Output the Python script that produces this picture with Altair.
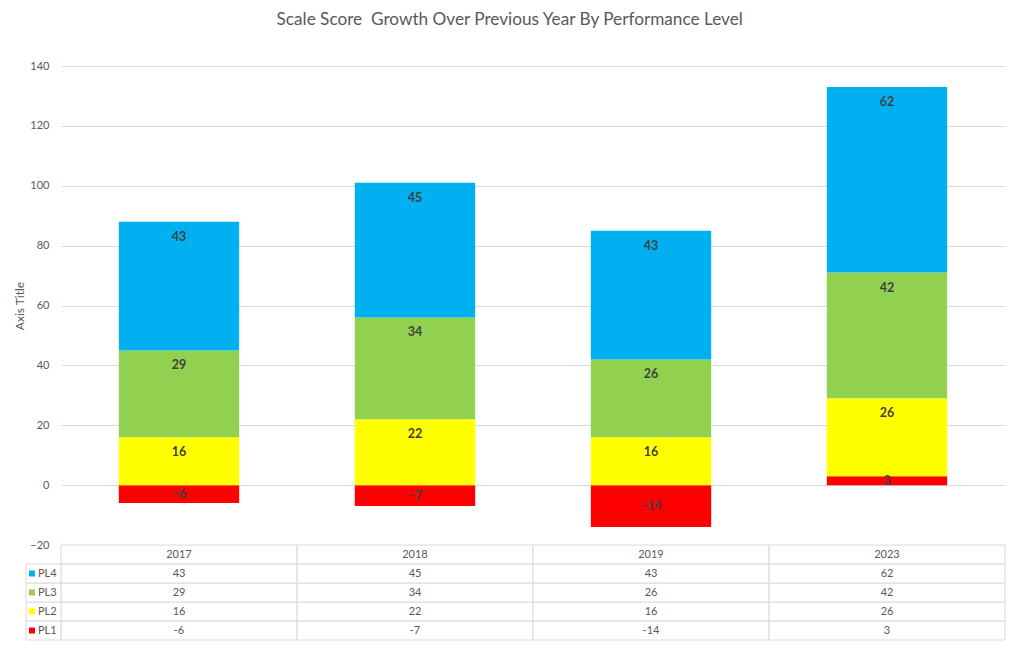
import altair as alt
import pandas as pd

years = ["2017", "2018", "2019", "2023"]
series = ["PL1", "PL2", "PL3", "PL4"]
pl1 = [-6, -7, -14, 3]
pl2 = [16, 22, 16, 26]
pl3 = [29, 34, 26, 42]
pl4 = [43, 45, 43, 62]
colors = ["#FF0000", "#FFFF00", "#92D050", "#00B0F0"]
y_ticks = [-20, 0, 20, 40, 60, 80, 100, 120, 140]
table_rows = ["hdr", "PL4", "PL3", "PL2", "PL1"]

vals = {"PL1": pl1, "PL2": pl2, "PL3": pl3, "PL4": pl4}
recs = []
for s_i, s in enumerate(series):
    for y_i, yr in enumerate(years):
        recs.append({"year": yr, "series": s, "value": vals[s][y_i], "ord": s_i})
df = pd.DataFrame(recs)

trecs = []
for yr in years:
    trecs.append({"year": yr, "row": "hdr", "txt": yr})
for s in series:
    for y_i, yr in enumerate(years):
        trecs.append({"year": yr, "row": s, "txt": str(vals[s][y_i])})
tdf = pd.DataFrame(trecs)
ldf = pd.DataFrame({"row": series, "series": series})

FONT = "Lato"
GRAY = "#595959"
W = 944

color_scale = alt.Scale(domain=series, range=colors)
xscale = alt.Scale(domain=years, paddingInner=0.49, paddingOuter=0.245)

base = alt.Chart(df).transform_stack(
    stack="value", groupby=["year"], sort=[alt.SortField("ord", "ascending")], as_=["v0", "v1"]
).transform_calculate(
    mid="(datum.v0 + datum.v1) / 2",
    top="max(datum.v0, datum.v1)",
).transform_calculate(
    lab="datum.value > 0 ? max(datum.mid, datum.top - 5) : datum.mid"
)

bars = base.mark_bar().encode(
    x=alt.X("year:N", scale=xscale, axis=None),
    y=alt.Y("v0:Q", scale=alt.Scale(domain=[-20, 140], nice=False),
            axis=alt.Axis(values=y_ticks, title="Axis Title", ticks=False, domain=False,
                          labelPadding=12, labelFontSize=11, labelColor=GRAY, labelFont=FONT,
                          titleFont=FONT, titleFontSize=12, titleColor=GRAY, titleFontWeight="normal",
                          titlePadding=3, gridColor="#d9d9d9", gridWidth=1)),
    y2="v1:Q",
    color=alt.Color("series:N", scale=color_scale, legend=None),
)
labels = base.mark_text(font=FONT, fontSize=12.5, fontWeight="bold", color="#404040", baseline="middle").encode(
    x=alt.X("year:N", scale=xscale, axis=None),
    y=alt.Y("lab:Q"),
    text=alt.Text("value:Q"),
)
main = alt.layer(bars, labels).properties(width=W, height=479)

tx = alt.X("year:N", scale=alt.Scale(domain=years, paddingInner=0, paddingOuter=0), axis=None)
ty = alt.Y("row:N", scale=alt.Scale(domain=table_rows, paddingInner=0, paddingOuter=0), axis=None)

cells = alt.Chart(tdf).mark_rect(fill="white", stroke="#d9d9d9", strokeWidth=1).encode(x=tx, y=ty)
ctext = alt.Chart(tdf).mark_text(font=FONT, fontSize=11, color=GRAY, baseline="middle").encode(
    x=tx, y=ty, text="txt:N")
lcells = alt.Chart(ldf).mark_rect(fill="white", stroke="#d9d9d9", strokeWidth=1).encode(
    x=alt.value(-35), x2=alt.value(0), y=ty)
swatch = alt.Chart(ldf).mark_square(size=36, opacity=1).encode(
    x=alt.value(-29), y=ty, color=alt.Color("series:N", scale=color_scale, legend=None))
ltext = alt.Chart(ldf).mark_text(font=FONT, fontSize=11, color=GRAY, align="left", baseline="middle").encode(
    x=alt.value(-23), y=ty, text="row:N")
table = alt.layer(cells, ctext, lcells, swatch, ltext).properties(width=W, height=95)

chart = alt.vconcat(main, table, spacing=0, bounds="flush").properties(
    title=alt.TitleParams("Scale Score\u00a0 Growth Over Previous Year By Performance Level",
                          font=FONT, fontSize=17.2, fontWeight="normal", color=GRAY,
                          anchor="middle", offset=32),
    padding={"left": 5, "top": 2, "right": 0, "bottom": 0},
    background="white",
).configure_view(stroke=None)

chart.save("out.html", embed_options={"renderer": "svg", "actions": False})
